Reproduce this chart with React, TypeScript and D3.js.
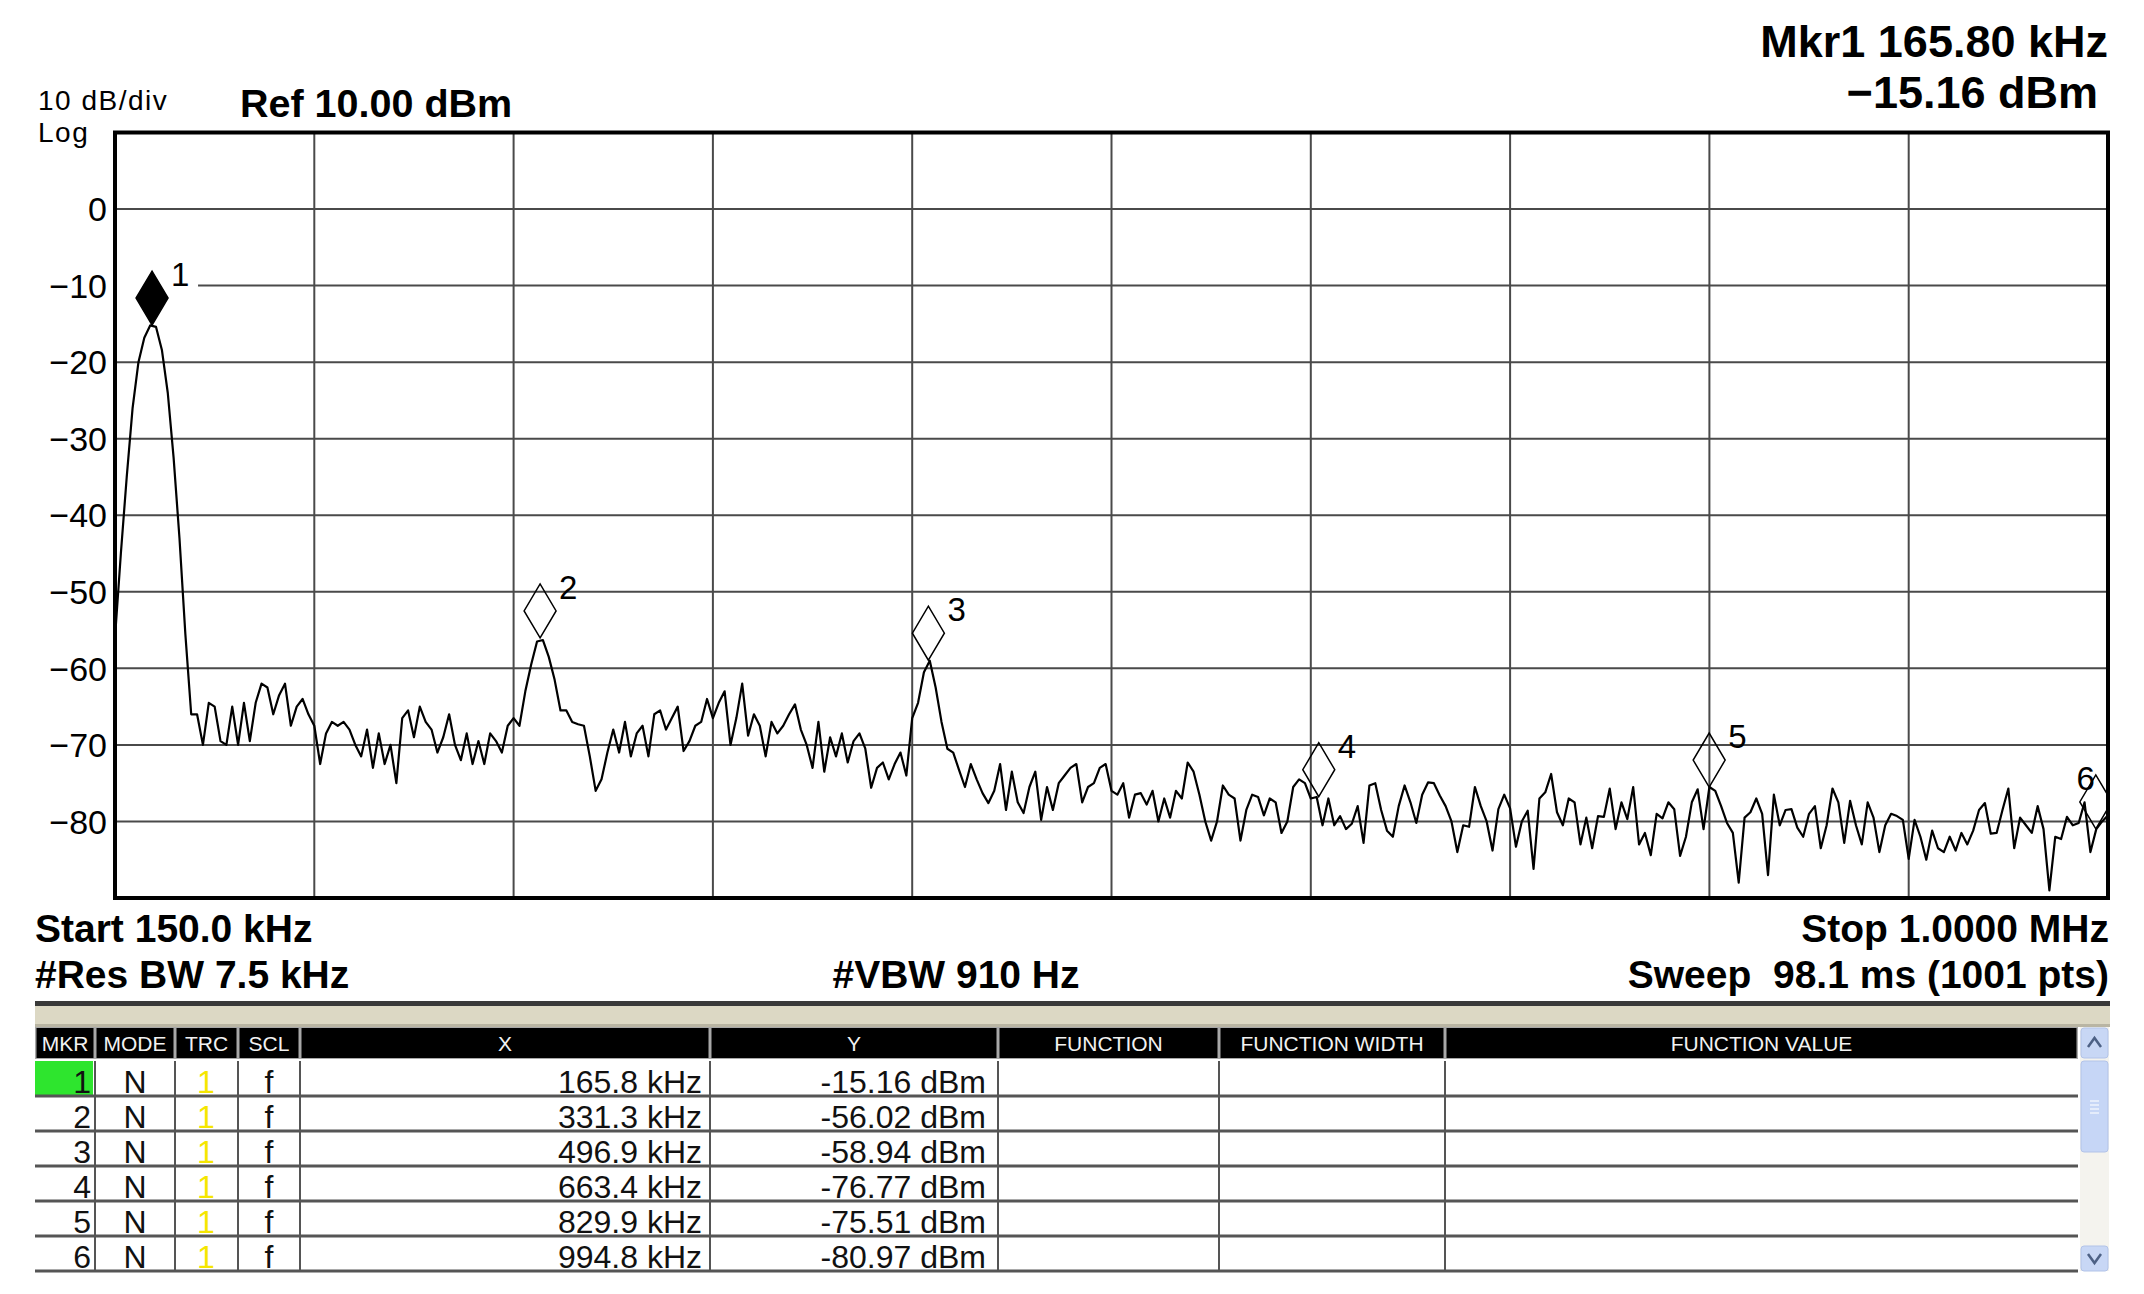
import React, { useRef, useEffect } from 'react';
import * as d3 from 'd3';

// sweep: 150 kHz .. 1 MHz, trace read every 2.5 kHz
const START_KHZ = 150;
const STOP_KHZ = 1000;
const STEP_KHZ = 2.5;
const REF_DBM = 10;
const DB_PER_DIV = 10;

// trace 1 (dBm), one value per 2.5 kHz starting at 150 kHz
const traceDbm = [
  -56, -45, -35, -26, -20, -16.8, -15.2, -15.4, -18.4, -24,
  -32.5, -43, -55.5, -66, -66, -70, -64.5, -65, -69.5, -70,
  -65, -70, -64.5, -69.5, -64.5, -62, -62.5, -66, -63.5, -62,
  -67.5, -65, -64, -66, -67.5, -72.5, -68.5, -67, -67.5, -67,
  -68, -70, -71.5, -68, -73, -68.5, -72.5, -70, -75, -66.5,
  -65.5, -69, -65, -67, -68, -71, -69, -66, -70, -72,
  -68.5, -72.5, -69.5, -72.5, -68.5, -69.5, -71, -67.5, -66.5, -67.5,
  -63, -59.5, -56.5, -56.3, -58.5, -61.5, -65.5, -65.5, -67, -67.3,
  -67.5, -71.5, -76, -74.5, -71, -68, -71, -67, -71.5, -68.5,
  -67.5, -71.5, -66, -65.5, -68, -66.5, -65, -70.8, -69.5, -67.5,
  -67, -64, -66.5, -64.5, -63, -70, -66.5, -62, -68.8, -66,
  -67.5, -71.5, -67, -68.5, -67.5, -66, -64.7, -68, -70, -73,
  -67, -73.5, -69, -71.5, -68.5, -72.3, -69.5, -68.5, -70.5, -75.6,
  -73, -72.3, -74.5, -72.5, -71, -74, -66.5, -64.5, -60.5, -59,
  -62.5, -67, -70.5, -71, -73.3, -75.5, -72.5, -74.5, -76.3, -77.6,
  -76, -72.5, -78.5, -73.5, -77.5, -78.9, -75.5, -73.5, -79.8, -75.5,
  -78.5, -75, -74, -73, -72.5, -77.5, -75.5, -75, -73, -72.5,
  -76, -76.5, -75, -79.5, -76.5, -76.3, -77.8, -76, -80, -77,
  -79.5, -76, -77, -72.3, -73.5, -76.5, -80, -82.5, -80, -75.3,
  -76.5, -77, -82.5, -78.5, -76.5, -76.8, -79.2, -77, -77.5, -81.5,
  -80, -75.5, -74.5, -75, -77, -76.8, -80.5, -77, -80.5, -79.3,
  -81, -80.3, -78, -82.8, -75.3, -75, -78.5, -81.2, -82, -78,
  -75.3, -77.5, -80.2, -76.5, -74.9, -75, -76.6, -78, -80, -84,
  -80.5, -80.7, -75.5, -78, -80, -83.8, -78.4, -76.5, -78.3, -83.3,
  -80, -78.6, -86.2, -77, -76.2, -73.8, -78.8, -80.5, -77, -77.5,
  -83, -79.5, -83.5, -79.3, -79.4, -75.7, -81, -77.5, -79.7, -75.5,
  -83, -81.5, -84.4, -79, -79.6, -77.5, -78.4, -84.5, -82, -77.5,
  -75.8, -81, -75.5, -76, -78, -80.2, -81.5, -88, -79.5, -78.8,
  -77, -79, -87, -76.5, -80.5, -78.5, -78.4, -80.8, -82, -79,
  -78, -83.5, -80.5, -75.7, -77.5, -82.8, -77.3, -80.5, -83, -77.5,
  -79.5, -84, -80.5, -79, -79.3, -79.8, -84.9, -79.8, -82, -85,
  -81.2, -83.5, -84, -82, -83.8, -81.5, -83, -81.2, -78.5, -77.6,
  -81.6, -81.5, -78.5, -75.7, -83.5, -79.5, -80.5, -81.5, -78, -81,
  -89, -82, -82.3, -79.4, -80.5, -80.2, -77.5, -84, -81, -80, -79.2
];

const markerIds = ['1', '2', '3', '4', '5', '6'];
const markerKHz = [165.8, 331.3, 496.9, 663.4, 829.9, 994.8];
const markerDbm = [-15.16, -56.02, -58.94, -76.77, -75.51, -80.97];

const yTickValues = [0, -10, -20, -30, -40, -50, -60, -70, -80];

const tableHeaders = ['MKR', 'MODE', 'TRC', 'SCL', 'X', 'Y', 'FUNCTION', 'FUNCTION WIDTH', 'FUNCTION VALUE'];
const tableMode = ['N', 'N', 'N', 'N', 'N', 'N'];
const tableTrace = ['1', '1', '1', '1', '1', '1'];
const tableScale = ['f', 'f', 'f', 'f', 'f', 'f'];
const tableX = ['165.8 kHz', '331.3 kHz', '496.9 kHz', '663.4 kHz', '829.9 kHz', '994.8 kHz'];
const tableY = ['-15.16 dBm', '-56.02 dBm', '-58.94 dBm', '-76.77 dBm', '-75.51 dBm', '-80.97 dBm'];

const W = 2144;
const H = 1294;
const plot = { left: 115, right: 2108, top: 132.5, bottom: 898 };
const FONT = "'Liberation Sans', Arial, Helvetica, sans-serif";

const SpectrumScreen = () => {
  const svgRef = useRef<SVGSVGElement>(null);

  useEffect(() => {
    const svg = d3.select(svgRef.current);
    svg.selectAll('*').remove();

    const x = d3.scaleLinear().domain([START_KHZ, STOP_KHZ]).range([plot.left, plot.right]);
    const y = d3
      .scaleLinear()
      .domain([REF_DBM - DB_PER_DIV * 10, REF_DBM])
      .range([plot.bottom, plot.top]);

    const traceKHz = traceDbm.map((_, i) => START_KHZ + i * STEP_KHZ);

    const text = (s: string, tx: number, ty: number, size: number, bold: boolean, anchor = 'start') =>
      svg
        .append('text')
        .attr('x', tx)
        .attr('y', ty)
        .attr('font-family', FONT)
        .attr('font-size', size)
        .attr('font-weight', bold ? 'bold' : 'normal')
        .attr('text-anchor', anchor)
        .style('white-space', 'pre')
        .text(s);

    // top annotations
    text('10 dB/div', 38, 110, 28, false).attr('letter-spacing', 1.5);
    text('Log', 38, 142, 28, false).attr('letter-spacing', 1.5);
    text('Ref 10.00 dBm', 240, 117, 39.5, true);
    text('Mkr1 165.80 kHz', 2108, 57, 45, true, 'end');
    text('\u221215.16 dBm', 2098, 108, 45, true, 'end');

    // graticule
    const grid = svg.append('g').attr('stroke', '#4a4a4a').attr('stroke-width', 2);
    grid
      .selectAll('line.h')
      .data(yTickValues)
      .enter()
      .append('line')
      .attr('class', 'h')
      .attr('x1', plot.left)
      .attr('x2', plot.right)
      .attr('y1', d => y(d))
      .attr('y2', d => y(d));
    const xGrid = d3.range(1, 10).map(k => START_KHZ + (k * (STOP_KHZ - START_KHZ)) / 10);
    grid
      .selectAll('line.v')
      .data(xGrid)
      .enter()
      .append('line')
      .attr('class', 'v')
      .attr('x1', d => x(d))
      .attr('x2', d => x(d))
      .attr('y1', plot.top)
      .attr('y2', plot.bottom);

    svg
      .append('g')
      .selectAll('text')
      .data(yTickValues)
      .enter()
      .append('text')
      .attr('x', 107)
      .attr('y', d => y(d))
      .attr('dy', '0.36em')
      .attr('text-anchor', 'end')
      .attr('font-family', FONT)
      .attr('font-size', 34)
      .text(d => (d < 0 ? '\u2212' + Math.abs(d) : String(d)));

    // active marker readout clears the graticule behind its label
    const m0x = x(markerKHz[0]);
    const m0y = y(markerDbm[0]);
    svg
      .append('rect')
      .attr('x', plot.left + 2)
      .attr('y', m0y - 64)
      .attr('width', m0x + 44 - plot.left)
      .attr('height', 30)
      .attr('fill', '#fff');

    svg
      .append('clipPath')
      .attr('id', 'plotClip')
      .append('rect')
      .attr('x', plot.left)
      .attr('y', plot.top)
      .attr('width', plot.right - plot.left)
      .attr('height', plot.bottom - plot.top);

    const line = d3
      .line<number>()
      .x((_, i) => x(traceKHz[i]))
      .y(d => y(d));

    svg
      .append('path')
      .datum(traceDbm)
      .attr('d', line)
      .attr('fill', 'none')
      .attr('stroke', '#000')
      .attr('stroke-width', 2.2)
      .attr('stroke-linejoin', 'round')
      .attr('clip-path', 'url(#plotClip)');

    // markers: diamond with bottom tip on the trace point
    const mk = svg.append('g');
    markerIds.forEach((id, i) => {
      const mx = x(markerKHz[i]);
      const my = y(markerDbm[i]);
      mk.append('path')
        .attr('d', `M${mx},${my}L${mx + 16},${my - 27}L${mx},${my - 54}L${mx - 16},${my - 27}Z`)
        .attr('fill', i === 0 ? '#000' : 'none')
        .attr('stroke', '#000')
        .attr('stroke-width', 1.5)
        .attr('clip-path', 'url(#plotClip)');
      const onRight = mx + 40 < plot.right;
      mk.append('text')
        .attr('x', onRight ? mx + 19 : mx - 1)
        .attr('y', my - 39)
        .attr('text-anchor', onRight ? 'start' : 'end')
        .attr('font-family', FONT)
        .attr('font-size', 33)
        .text(id);
    });

    svg
      .append('rect')
      .attr('x', plot.left)
      .attr('y', plot.top)
      .attr('width', plot.right - plot.left)
      .attr('height', plot.bottom - plot.top)
      .attr('fill', 'none')
      .attr('stroke', '#000')
      .attr('stroke-width', 4);

    // bottom annotations
    text('Start 150.0 kHz', 35, 942, 39, true);
    text('#Res BW 7.5 kHz', 35, 988, 39, true);
    text('#VBW 910 Hz', 956, 988, 39, true, 'middle');
    text('Stop 1.0000 MHz', 2109, 942, 39, true, 'end');
    text('Sweep  98.1 ms (1001 pts)', 2109, 988, 39, true, 'end');

    // marker table
    const cols = [35, 95, 175, 238, 300, 710, 998, 1219, 1445, 2078];
    const headTop = 1027;
    const headBottom = 1059;
    const rowTop = 1061;
    const rowH = 35;
    const tableBottom = rowTop + rowH * tableX.length;

    svg.append('rect').attr('x', 35).attr('y', 1001).attr('width', 2075).attr('height', 5).attr('fill', '#3a3a3a');
    svg.append('rect').attr('x', 35).attr('y', 1006).attr('width', 2075).attr('height', 18).attr('fill', '#dcd8c4');
    svg.append('rect').attr('x', 35).attr('y', 1024).attr('width', 2075).attr('height', 3).attr('fill', '#b9b5a3');

    const table = svg.append('g');
    table
      .append('rect')
      .attr('x', cols[0])
      .attr('y', headTop)
      .attr('width', cols[cols.length - 1] - cols[0])
      .attr('height', headBottom - headTop)
      .attr('fill', '#a8a8a8');
    tableHeaders.forEach((h, i) => {
      table
        .append('rect')
        .attr('x', cols[i] + 1.5)
        .attr('y', headTop + 1)
        .attr('width', cols[i + 1] - cols[i] - 3)
        .attr('height', headBottom - headTop - 2)
        .attr('fill', '#000');
      table
        .append('text')
        .attr('x', (cols[i] + cols[i + 1]) / 2)
        .attr('y', 1051)
        .attr('text-anchor', 'middle')
        .attr('font-family', FONT)
        .attr('font-size', 21)
        .attr('fill', '#f2f2f2')
        .text(h);
    });

    // active marker cell
    table
      .append('rect')
      .attr('x', cols[0])
      .attr('y', rowTop)
      .attr('width', cols[1] - cols[0] - 2)
      .attr('height', rowH)
      .attr('fill', '#2ee52e');

    table
      .selectAll('line.row')
      .data(d3.range(1, tableX.length + 1))
      .enter()
      .append('line')
      .attr('class', 'row')
      .attr('x1', cols[0])
      .attr('x2', cols[cols.length - 1])
      .attr('y1', d => rowTop + d * rowH)
      .attr('y2', d => rowTop + d * rowH)
      .attr('stroke', '#555')
      .attr('stroke-width', 3);

    table
      .selectAll('line.col')
      .data(cols.slice(1, -1))
      .enter()
      .append('line')
      .attr('class', 'col')
      .attr('x1', d => d)
      .attr('x2', d => d)
      .attr('y1', rowTop)
      .attr('y2', tableBottom)
      .attr('stroke', '#555')
      .attr('stroke-width', 2);

    const cell = (s: string, tx: number, row: number, anchor: string, fill = '#111') =>
      table
        .append('text')
        .attr('x', tx)
        .attr('y', rowTop + (row + 1) * rowH - 3)
        .attr('text-anchor', anchor)
        .attr('font-family', FONT)
        .attr('font-size', 32)
        .attr('fill', fill)
        .text(s);

    tableX.forEach((_, r) => {
      cell(markerIds[r], 91, r, 'end');
      cell(tableMode[r], 135, r, 'middle');
      cell(tableTrace[r], 206, r, 'middle', '#f5e600');
      cell(tableScale[r], 269, r, 'middle');
      cell(tableX[r], 702, r, 'end');
      cell(tableY[r], 986, r, 'end');
    });

    // scrollbar
    const sb = svg.append('g');
    sb.append('rect').attr('x', 2080).attr('y', headTop).attr('width', 29).attr('height', tableBottom - headTop).attr('fill', '#f4f3ee');
    sb.append('rect').attr('x', 2081).attr('y', headTop + 1).attr('width', 27).attr('height', 30).attr('rx', 3)
      .attr('fill', '#c8d7f5').attr('stroke', '#b2c3e8');
    sb.append('path').attr('d', 'M2088,1047L2094.5,1038L2101,1047').attr('fill', 'none').attr('stroke', '#4d6185').attr('stroke-width', 2.5);
    sb.append('rect').attr('x', 2081).attr('y', 1061).attr('width', 27).attr('height', 91).attr('rx', 3)
      .attr('fill', '#c6d6f6').attr('stroke', '#b2c3e8');
    sb.selectAll('line.grip').data([1101, 1105, 1109, 1113]).enter().append('line')
      .attr('x1', 2090).attr('x2', 2099).attr('y1', d => d).attr('y2', d => d).attr('stroke', '#eef3fd').attr('stroke-width', 1.5);
    sb.append('rect').attr('x', 2081).attr('y', 1246).attr('width', 27).attr('height', 25).attr('rx', 3)
      .attr('fill', '#c8d7f5').attr('stroke', '#b2c3e8');
    sb.append('path').attr('d', 'M2088,1254L2094.5,1263L2101,1254').attr('fill', 'none').attr('stroke', '#4d6185').attr('stroke-width', 2.5);
  }, []);

  return (
    <div style={{ position: 'absolute', left: 0, top: 0, width: W, height: H, background: '#fff' }}>
      <svg ref={svgRef} width={W} height={H} viewBox={`0 0 ${W} ${H}`} style={{ display: 'block' }} />
    </div>
  );
};

export default SpectrumScreen;
